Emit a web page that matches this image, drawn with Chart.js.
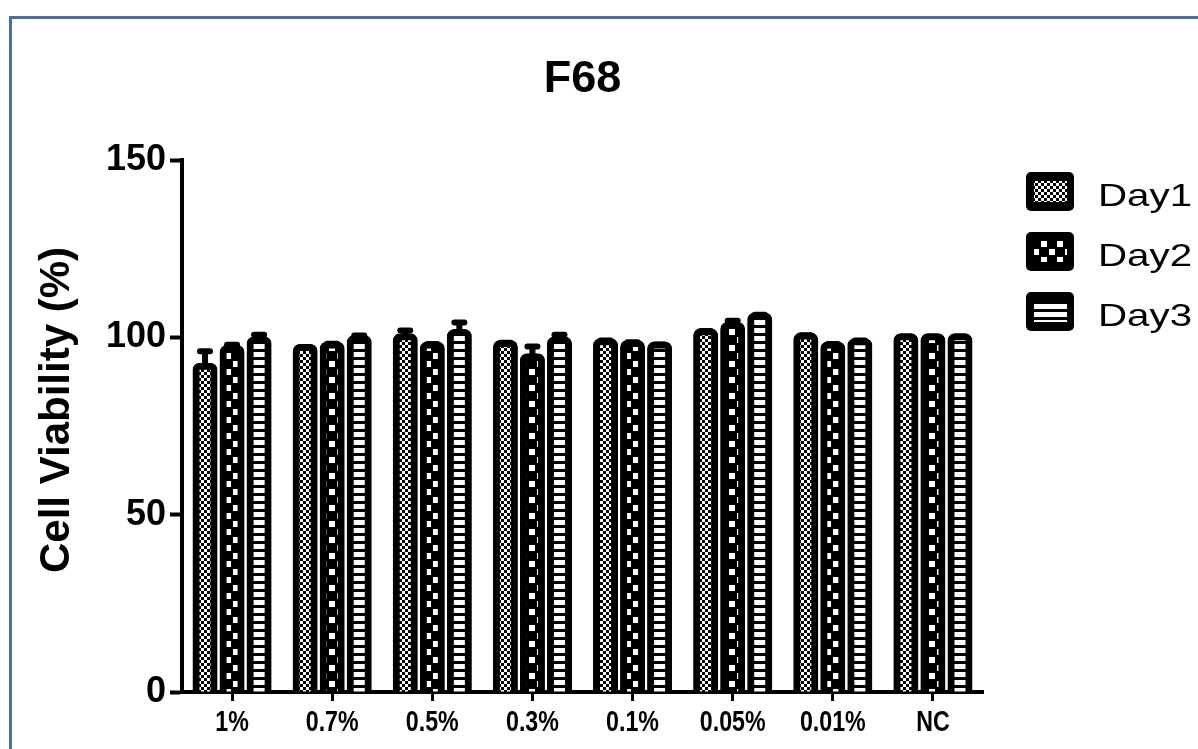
<!DOCTYPE html>
<html>
<head>
<meta charset="utf-8">
<script src="https://cdn.jsdelivr.net/npm/chart.js@4.4.1/dist/chart.umd.min.js"></script>
<style>
  html, body { margin: 0; padding: 0; background: #fff; overflow: hidden; }
  #wrap { position: relative; width: 1198px; height: 749px; }
  #frame {
    position: absolute; left: 9px; top: 16px; width: 1400px; height: 900px;
    border-top: 3px solid #4d6ea3; border-left: 3px solid #4d6ea3; box-sizing: border-box;
  }
  canvas { position: absolute; left: 0; top: 0; }
</style>
</head>
<body>
<div id="wrap">
  <div id="frame"></div>
  <canvas id="chart" width="1198" height="749"></canvas>
</div>
<script>
// Concentrations of F68 tested, plus the untreated control
const categories = ['1%', '0.7%', '0.5%', '0.3%', '0.1%', '0.05%', '0.01%', 'NC'];
const seriesNames = ['Day1', 'Day2', 'Day3'];

// Mean cell viability (%) per day
const day1 = [91.7, 97.0, 100.0, 98.1, 98.6, 101.4, 100.2, 100.0];
const day2 = [96.7, 97.7, 97.7, 94.4, 98.1, 103.2, 97.7, 100.0];
const day3 = [99.1, 99.5, 101.2, 99.1, 97.7, 105.9, 98.6, 100.0];

// Standard deviation (upper error bar) per day
const day1Sd = [4.4, 0.3, 1.9, 0.4, 0.5, 0.4, 0.4, 0.2];
const day2Sd = [1.2, 0.5, 0.4, 3.0, 0.5, 1.5, 0.4, 0.2];
const day3Sd = [1.6, 1.0, 3.0, 1.6, 0.3, 0.5, 0.5, 0.2];

const yTicks = [0, 50, 100, 150];

const SANS = '"Liberation Sans", Arial, Helvetica, sans-serif';

// Fill patterns: fine checks, coarse checks, horizontal stripes
function makePattern(kind) {
  const t = document.createElement('canvas');
  const c = t.getContext('2d');
  if (kind === 'fine') {
    t.width = 6; t.height = 6;
    c.fillStyle = '#fff'; c.fillRect(0, 0, 6, 6);
    c.fillStyle = '#000'; c.fillRect(0, 0, 3, 3); c.fillRect(3, 3, 3, 3);
  } else if (kind === 'coarse') {
    t.width = 16; t.height = 16;
    c.fillStyle = '#000'; c.fillRect(0, 0, 16, 16);
    c.fillStyle = '#fff'; c.fillRect(1, 1, 6, 6); c.fillRect(9, 9, 6, 6);
  } else {
    t.width = 8; t.height = 8;
    c.fillStyle = '#fff'; c.fillRect(0, 0, 8, 8);
    c.fillStyle = '#000'; c.fillRect(0, 5, 8, 3);
  }
  return c.createPattern(t, 'repeat');
}
const fills = [makePattern('fine'), makePattern('coarse'), makePattern('stripe')];
const seriesValues = [day1, day2, day3];
const seriesSd = [day1Sd, day2Sd, day3Sd];

// Upper error bars with a rounded cap
const errorBars = {
  id: 'errorBars',
  afterDatasetsDraw(chart) {
    const { ctx } = chart;
    const y = chart.scales.y;
    ctx.save();
    ctx.strokeStyle = '#000';
    chart.data.datasets.forEach((ds, di) => {
      const meta = chart.getDatasetMeta(di);
      const sd = seriesSd[di];
      meta.data.forEach((bar, i) => {
        const yTop = y.getPixelForValue(ds.data[i] + sd[i]);
        ctx.lineWidth = 6;
        ctx.lineCap = 'butt';
        ctx.beginPath();
        ctx.moveTo(bar.x, bar.y);
        ctx.lineTo(bar.x, yTop);
        ctx.stroke();
        ctx.lineCap = 'round';
        ctx.beginPath();
        ctx.moveTo(bar.x - 5, yTop);
        ctx.lineTo(bar.x + 5, yTop);
        ctx.stroke();
      });
    });
    ctx.restore();
  }
};

// Category labels (condensed bold), vertical axis title and the legend
const decorations = {
  id: 'decorations',
  afterDraw(chart) {
    const { ctx } = chart;
    const xs = chart.scales.x;

    ctx.save();
    ctx.fillStyle = '#000';
    ctx.font = 'bold 29px ' + SANS;
    ctx.textAlign = 'center';
    ctx.textBaseline = 'middle';
    categories.forEach((label, i) => {
      ctx.save();
      ctx.translate(xs.getPixelForTick(i), 723);
      ctx.scale(0.8, 1);
      ctx.fillText(label, 0, 0);
      ctx.restore();
    });
    ctx.restore();

    ctx.save();
    ctx.fillStyle = '#000';
    ctx.font = 'bold 42px ' + SANS;
    ctx.textAlign = 'center';
    ctx.textBaseline = 'middle';
    ctx.translate(57, 410);
    ctx.rotate(-Math.PI / 2);
    ctx.fillText('Cell Viability (%)', 0, 0);
    ctx.restore();

    chart.data.datasets.forEach((ds, i) => {
      const x = 1026, y = 172 + i * 60, w = 48, h = 39, r = 5;
      ctx.save();
      ctx.fillStyle = '#000';
      ctx.beginPath();
      ctx.roundRect(x, y, w, h, r);
      ctx.fill();
      ctx.fillStyle = ds.backgroundColor;
      ctx.fillRect(x + 8, y + 9, w - 15, h - 18);
      ctx.font = '32px ' + SANS;
      ctx.textAlign = 'left';
      ctx.textBaseline = 'alphabetic';
      ctx.fillStyle = '#000';
      ctx.translate(1098, 206 + i * 60);
      ctx.scale(1.26, 1);
      ctx.fillText(ds.label, 0, 0);
      ctx.restore();
    });
  }
};

new Chart(document.getElementById('chart'), {
  type: 'bar',
  data: {
    labels: categories,
    datasets: seriesNames.map((name, i) => ({
      label: name,
      data: seriesValues[i],
      backgroundColor: fills[i],
      borderColor: '#000',
      borderWidth: 7,
      borderRadius: { topLeft: 7, topRight: 7, bottomLeft: 0, bottomRight: 0 },
      borderSkipped: 'start',
      inflateAmount: 4,
      barPercentage: 0.63,
      categoryPercentage: 0.81
    }))
  },
  options: {
    responsive: false,
    animation: false,
    devicePixelRatio: 1,
    layout: { padding: { left: 12, right: 215, top: 20, bottom: 0 } },
    plugins: {
      legend: { display: false },
      tooltip: { enabled: false },
      title: {
        display: true,
        text: 'F68',
        fullSize: false,
        color: '#000',
        font: { family: SANS, size: 45, weight: 'bold' },
        padding: { top: 33, bottom: 53 }
      }
    },
    scales: {
      x: {
        z: 1,
        ticks: { display: false, maxRotation: 0, autoSkip: false },
        grid: {
          offset: false,
          drawOnChartArea: false,
          drawTicks: true,
          tickLength: 9,
          tickWidth: 3,
          tickColor: '#000'
        },
        border: { color: '#000', width: 4 },
        afterFit(scale) { scale.height = 57; }
      },
      y: {
        z: 1,
        min: 0,
        max: 150,
        afterBuildTicks(scale) { scale.ticks = yTicks.map(v => ({ value: v })); },
        ticks: {
          color: '#000',
          font: { family: SANS, size: 36, weight: 'bold' },
          padding: 4
        },
        grid: {
          drawOnChartArea: false,
          drawTicks: true,
          tickLength: 12,
          tickWidth: 4,
          tickColor: '#000'
        },
        border: { color: '#000', width: 4 },
        afterFit(scale) { scale.width = 170; }
      }
    }
  },
  plugins: [errorBars, decorations]
});
</script>
</body>
</html>
